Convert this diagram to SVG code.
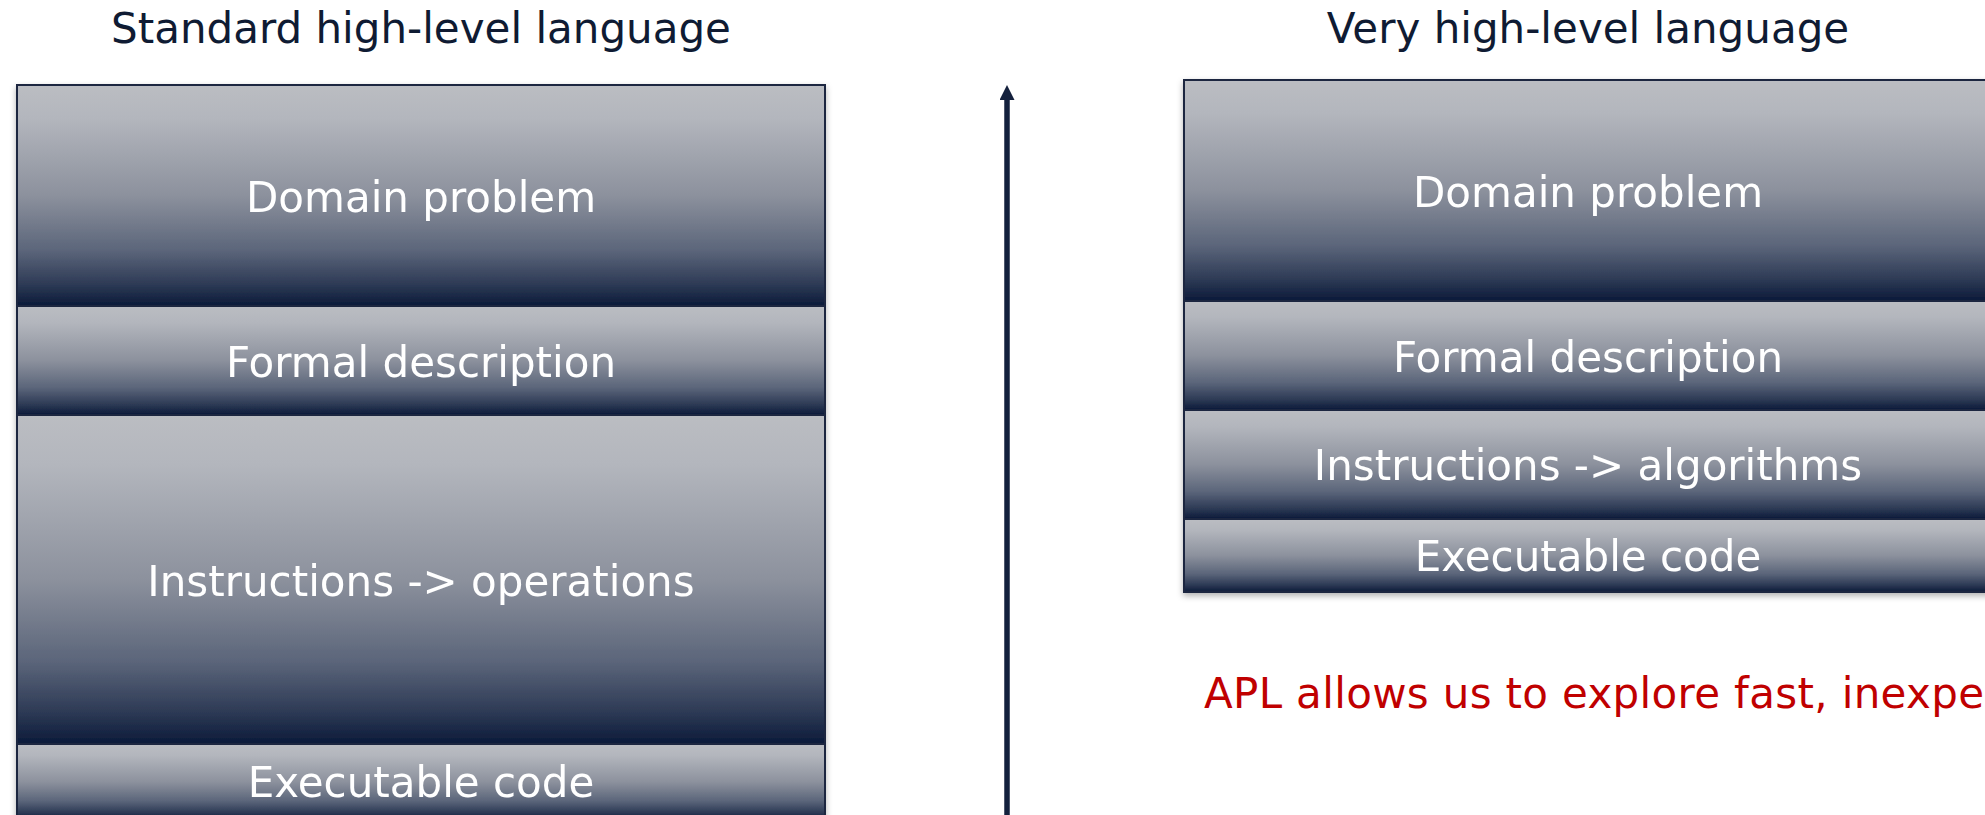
<svg xmlns="http://www.w3.org/2000/svg" width="1985" height="815" viewBox="0 0 1985 815">
  <defs>
    <linearGradient id="boxGrad" x1="0" y1="0" x2="0" y2="1">
      <stop offset="0" stop-color="#BBBDC2"/>
      <stop offset="0.15" stop-color="#B3B6BD"/>
      <stop offset="0.5" stop-color="#8C919D"/>
      <stop offset="0.75" stop-color="#5B657A"/>
      <stop offset="0.9" stop-color="#2E3B56"/>
      <stop offset="1" stop-color="#0B1A39"/>
    </linearGradient>
    <filter id="shadow" x="-5%" y="-5%" width="110%" height="120%">
      <feDropShadow dx="0" dy="3" stdDeviation="3" flood-color="#000" flood-opacity="0.3"/>
    </filter>
    <marker id="arrowHead" markerWidth="15" markerHeight="15" refX="0" refY="7.5" viewBox="0 0 15 15" markerUnits="userSpaceOnUse" orient="auto">
      <path d="M0,0 L15,7.5 L0,15 Z" fill="#14213D"/>
    </marker>
  </defs>
  <style>
    .box { fill: url(#boxGrad); stroke: #1C2740; stroke-width: 2; }
    .lbl { font-family: "DejaVu Sans", sans-serif; font-size: 42px; fill: #FFFFFF; text-anchor: middle; }
    .title { font-family: "DejaVu Sans", sans-serif; font-size: 42px; fill: #0F1B33; text-anchor: middle; }
    .note { font-family: "DejaVu Sans", sans-serif; font-size: 42px; fill: #C00000; }
  </style>
  <rect width="1985" height="815" fill="#FFFFFF"/>

  <g id="title-standard"><text class="title" x="421" y="43">Standard high-level language</text></g>
  <g id="title-very"><text class="title" x="1588" y="43">Very high-level language</text></g>

  <g id="left-stack" filter="url(#shadow)">
    <g id="left-domain"><rect class="box" x="17" y="85" width="808" height="221"/><text class="lbl" x="421" y="212">Domain problem</text></g>
    <g id="left-formal"><rect class="box" x="17" y="306" width="808" height="109"/><text class="lbl" x="421" y="377">Formal description</text></g>
    <g id="left-instructions"><rect class="box" x="17" y="415" width="808" height="329"/><text class="lbl" x="421" y="596">Instructions -&gt; operations</text></g>
    <g id="left-executable"><rect class="box" x="17" y="744" width="808" height="76"/><text class="lbl" x="421" y="797">Executable code</text></g>
  </g>

  <g id="connectors">
    <line x1="1007" y1="820" x2="1007" y2="100" stroke="#14213D" stroke-width="5.5" marker-end="url(#arrowHead)"/>
  </g>

  <g id="right-stack" filter="url(#shadow)">
    <g id="right-domain"><rect class="box" x="1184" y="80" width="808" height="221"/><text class="lbl" x="1588" y="207">Domain problem</text></g>
    <g id="right-formal"><rect class="box" x="1184" y="301" width="808" height="109"/><text class="lbl" x="1588" y="372">Formal description</text></g>
    <g id="right-instructions"><rect class="box" x="1184" y="410" width="808" height="109"/><text class="lbl" x="1588" y="480">Instructions -&gt; algorithms</text></g>
    <g id="right-executable"><rect class="box" x="1184" y="519" width="808" height="73"/><text class="lbl" x="1588" y="571">Executable code</text></g>
  </g>

  <g id="note"><text class="note" x="1204" y="708" textLength="780" lengthAdjust="spacing">APL allows us to explore fast, inexpe</text></g>
</svg>
